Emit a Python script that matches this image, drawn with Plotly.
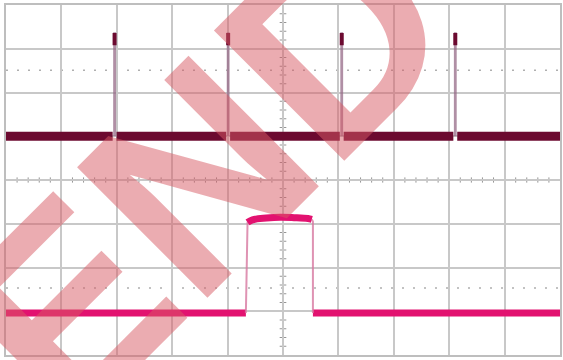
import plotly.graph_objects as go

# ---- data (time in divisions, amplitude in divisions) ----
ch1_base = 1.0
ch1_spike_t = [1.96, 4.01, 6.06, 8.11]
ch1_spike_top = 3.36
ch1_spike_blob_bottom = 3.08

ch2_base = -3.04
ch2_rise_t = 4.33
ch2_fall_t = 5.54
ch2_top_t = [4.36, 4.45, 4.7, 4.95, 5.2, 5.45, 5.52]
ch2_top_v = [-0.97, -0.91, -0.87, -0.85, -0.86, -0.88, -0.9]

cursor_levels = [2.51, -2.47]
watermark_text = "END"

C1 = "rgb(108,10,48)"
C2 = "rgb(226,18,112)"
EDGE1 = "rgba(150,105,135,0.75)"
EDGE2 = "rgba(215,120,160,0.8)"

fig = go.Figure()

# channel 1 baseline with gaps at spikes
gap = 0.035
bx, by = [0], [ch1_base]
for t in ch1_spike_t:
    bx += [t - gap, None, t + gap]
    by += [ch1_base, None, ch1_base]
bx.append(10)
by.append(ch1_base)
fig.add_trace(go.Scatter(x=bx, y=by, mode="lines", line=dict(color=C1, width=9), hoverinfo="skip"))

# channel 1 spikes
for t in ch1_spike_t:
    fig.add_trace(go.Scatter(x=[t - 0.012, t - 0.012, t + 0.012, t + 0.012],
                             y=[ch1_base, ch1_spike_top, ch1_spike_top, ch1_base],
                             mode="lines", line=dict(color=EDGE1, width=1.5), hoverinfo="skip"))
    fig.add_trace(go.Scatter(x=[t, t], y=[ch1_spike_blob_bottom, ch1_spike_top],
                             mode="lines", line=dict(color=C1, width=4), hoverinfo="skip"))

# channel 2 baseline
fig.add_trace(go.Scatter(x=[0, ch2_rise_t, None, ch2_fall_t, 10],
                         y=[ch2_base, ch2_base, None, ch2_base, ch2_base],
                         mode="lines", line=dict(color=C2, width=7), hoverinfo="skip"))
# channel 2 edges
fig.add_trace(go.Scatter(x=[ch2_rise_t, ch2_rise_t + 0.02, ch2_top_t[0], ch2_top_t[1]],
                         y=[ch2_base, ch2_top_v[0] - 0.25, ch2_top_v[0], ch2_top_v[1]],
                         mode="lines", line=dict(color=EDGE2, width=2), hoverinfo="skip"))
fig.add_trace(go.Scatter(x=[ch2_top_t[-1], ch2_fall_t, ch2_fall_t],
                         y=[ch2_top_v[-1], ch2_top_v[-1] - 0.05, ch2_base],
                         mode="lines", line=dict(color=EDGE2, width=2), hoverinfo="skip"))
# channel 2 top
fig.add_trace(go.Scatter(x=ch2_top_t, y=ch2_top_v, mode="lines",
                         line=dict(color=C2, width=7, shape="spline"), hoverinfo="skip"))

shapes = []
# cursor dotted lines
for lv in cursor_levels:
    shapes.append(dict(type="line", xref="x", yref="y", x0=0, x1=10, y0=lv, y1=lv,
                       line=dict(color="rgb(175,175,175)", width=1.5, dash="2px,9px"), layer="below"))
# centre cross minor ticks
for i in range(1, 50):
    if i % 5 == 0:
        continue
    x = i * 0.2
    shapes.append(dict(type="line", xref="x", yref="y", x0=x, x1=x, y0=-0.06, y1=0.06,
                       line=dict(color="rgb(150,150,150)", width=1), layer="below"))
for i in range(-19, 20):
    if i % 5 == 0:
        continue
    y = i * 0.2
    shapes.append(dict(type="line", xref="x", yref="y", x0=4.94, x1=5.06, y0=y, y1=y,
                       line=dict(color="rgb(150,150,150)", width=1), layer="below"))

fig.update_layout(
    width=563, height=360,
    margin=dict(l=6, r=1, t=5, b=5),
    paper_bgcolor="white", plot_bgcolor="white",
    showlegend=False,
    shapes=shapes,
    xaxis=dict(range=[0, 10], dtick=1, tick0=0, showgrid=True, gridcolor="rgb(200,200,200)", gridwidth=1.5,
               zeroline=False, showticklabels=False, ticks="", showline=True, linecolor="rgb(190,190,190)",
               linewidth=1.5, mirror=True, fixedrange=True),
    yaxis=dict(range=[-4, 4], dtick=1, tick0=0, showgrid=True, gridcolor="rgb(200,200,200)", gridwidth=1.5,
               zeroline=False, showticklabels=False, ticks="", showline=True, linecolor="rgb(190,190,190)",
               linewidth=1.5, mirror=True, fixedrange=True),
    annotations=[dict(text="<b>" + watermark_text + "</b>", xref="paper", yref="paper", x=0.355, y=0.525,
                      showarrow=False, textangle=-45,
                      font=dict(family="Liberation Sans", size=268, color="rgba(215,90,100,0.5)"))],
)

fig.write_html("out.html", config={"displayModeBar": False},
               post_script="document.body.style.margin='0';document.body.style.padding='0';")
